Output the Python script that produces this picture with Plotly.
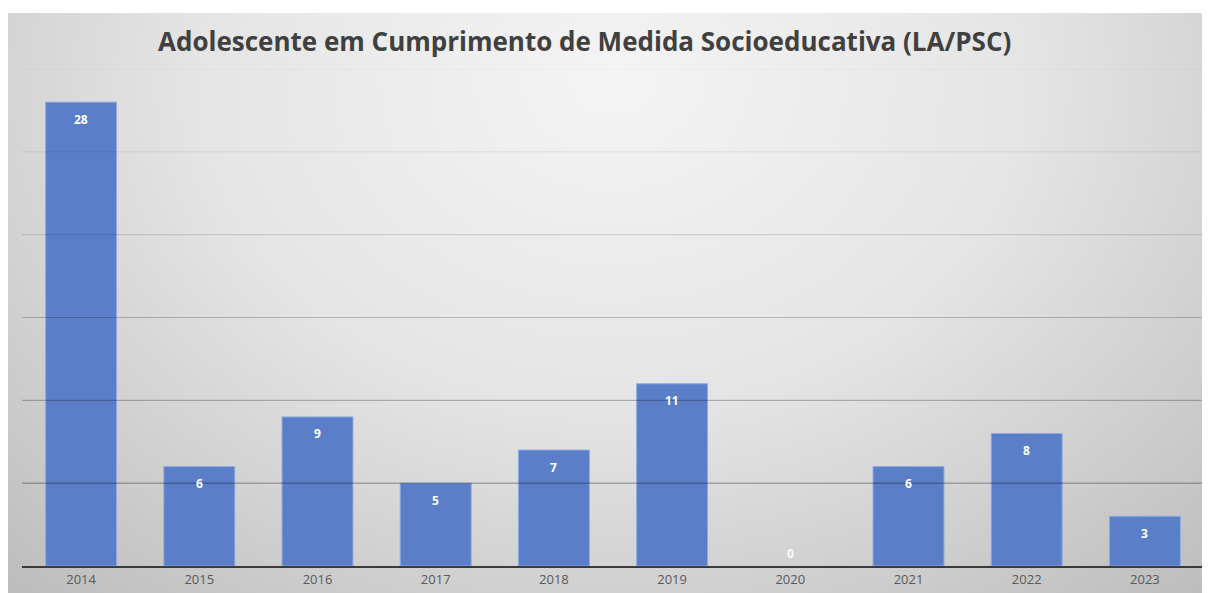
import base64
import plotly.graph_objects as go

# dados
anos = ["2014", "2015", "2016", "2017", "2018", "2019", "2020", "2021", "2022", "2023"]
adolescentes = [28, 6, 9, 5, 7, 11, 0, 6, 8, 3]
grade = [5, 10, 15, 20, 25, 30]
opac_grade = [0.40, 0.30, 0.22, 0.15, 0.08, 0.05]

titulo = "Adolescente em Cumprimento de Medida Socioeducativa (LA/PSC)"

# fundo com gradiente radial (estilo Excel)
svg = """<svg xmlns='http://www.w3.org/2000/svg' width='1211' height='588' preserveAspectRatio='none'>
<defs><radialGradient id='g' cx='0.5' cy='0.12' r='0.75' gradientTransform='translate(0.5 0.12) scale(1 1.6) translate(-0.5 -0.12)'>
<stop offset='0' stop-color='#f4f4f4'/><stop offset='0.45' stop-color='#e5e5e5'/>
<stop offset='1' stop-color='#bbbbbb'/></radialGradient></defs>
<rect width='1211' height='588' fill='url(#g)'/></svg>"""
fundo = "data:image/svg+xml;base64," + base64.b64encode(svg.encode()).decode()

fig = go.Figure()
fig.add_trace(go.Bar(
    x=anos,
    y=adolescentes,
    marker=dict(color="#5a7fc8",
                line=dict(color="#8eaae0", width=[1 if v else 0 for v in adolescentes])),
))

# rótulos de dados (x pelo índice da categoria)
for i, v in enumerate(adolescentes):
    fig.add_annotation(
        x=i, y=v, text=str(v), showarrow=False,
        yshift=13 if v == 0 else -17,
        font=dict(color="rgba(255,255,255,0.9)" if v == 0 else "white",
                  size=12, family="Open Sans", weight="bold"),
    )

# linhas de grade por cima das barras, semitransparentes
for v, a in zip(grade, opac_grade):
    fig.add_shape(type="line", xref="paper", yref="y", x0=0, x1=1, y0=v, y1=v,
                  line=dict(color=f"rgba(0,0,0,{a})", width=1), layer="above")

fig.add_layout_image(dict(
    source=fundo, xref="paper", yref="paper",
    x=-15 / 1182, y=553 / 497,
    sizex=1211 / 1182, sizey=588 / 497,
    xanchor="left", yanchor="top", sizing="stretch", layer="below",
))

fig.update_layout(
    width=1210,
    height=593,
    margin=dict(l=14, r=14, t=61, b=35),
    paper_bgcolor="white",
    plot_bgcolor="rgba(0,0,0,0)",
    bargap=0.4,
    showlegend=False,
    title=dict(text=titulo, xref="paper", x=0.476, xanchor="center", y=0.943, yanchor="middle",
               font=dict(family="Open Sans", size=26, color="#404040", weight="bold")),
    xaxis=dict(type="category", showgrid=False, showline=True, linecolor="#3a3a3a", linewidth=2,
               tickfont=dict(family="Open Sans", size=13, color="#595959"), ticks=""),
    yaxis=dict(range=[0, 30], showgrid=False, showticklabels=False, zeroline=False),
)

fig.write_html("out.html")
